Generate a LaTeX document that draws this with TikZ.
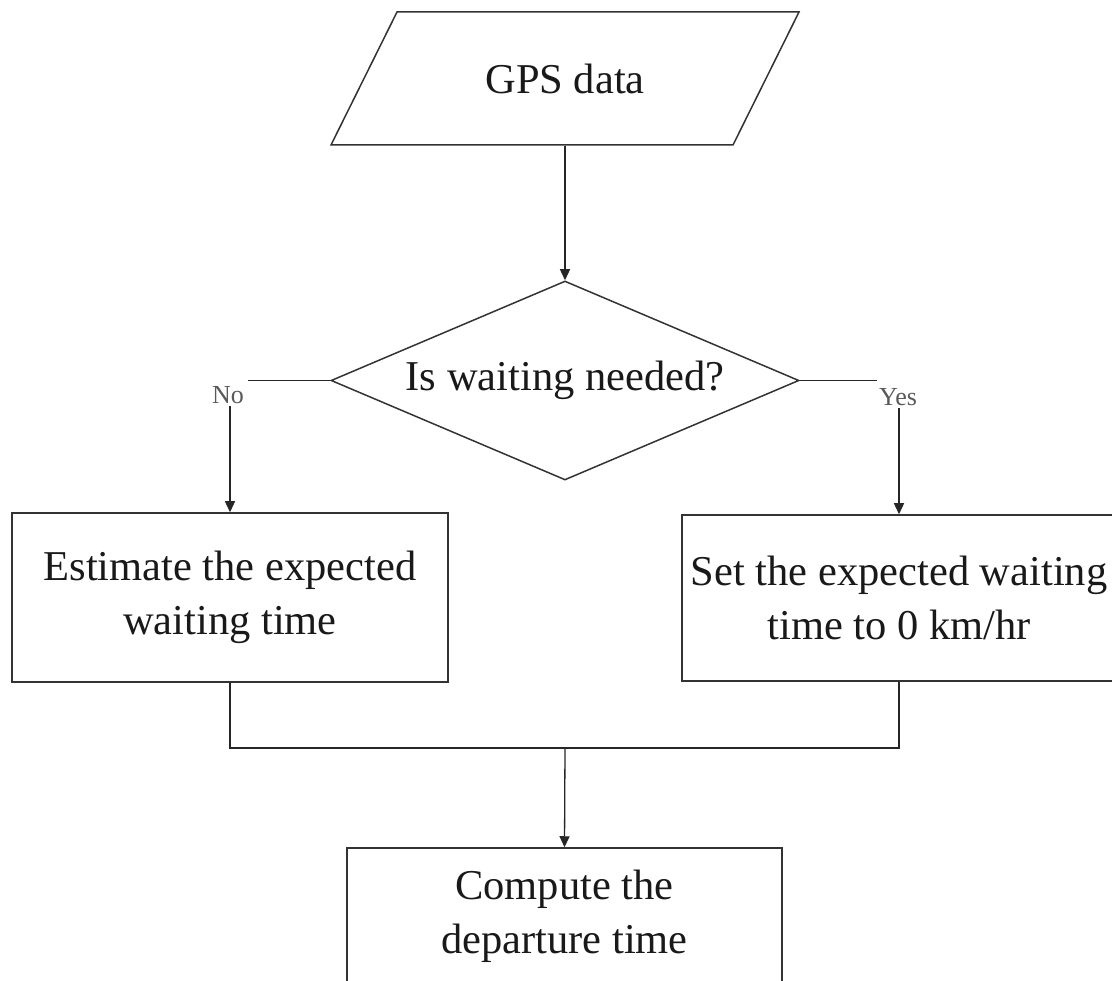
\documentclass[tikz,border=0pt]{standalone}
\usepackage{fontspec}
\setmainfont{Liberation Serif}
\usetikzlibrary{shapes.geometric,arrows.meta,calc}
\begin{document}
\begin{tikzpicture}[x=1pt,y=-1pt,
  line width=1.5pt,
  every node/.style={font=\fontsize{42.5}{54}\selectfont, text=black!90},
  box/.style={draw=black!80, rectangle, align=center, inner sep=0pt},
  dia/.style={draw=black!80, diamond, aspect=2.35, inner sep=0pt, minimum width=468pt, minimum height=199pt},
  lbl/.style={font=\fontsize{26}{30}\selectfont, text=black!65, inner sep=2pt},
  conn/.style={draw=black!85, line width=1.3pt},
  arr/.style={conn, -{Triangle[length=11pt,width=10pt]}}
]
\useasboundingbox (0,0) rectangle (1112,981);
\clip (0,0) rectangle (1112,981);

% GPS data (parallelogram)
\node[inner sep=0pt, minimum width=402pt, minimum height=133pt] (gps) at (565,78.5) {GPS data};
\draw[draw=black!80] (397,12) -- (799,12) -- (733,145) -- (331,145) -- cycle;

% decision
\node[dia] (dec) at (565,380.5) {Is waiting needed?};

% labels
\node[lbl] (no) at (228,395) {No};
\node[lbl] (yes) at (898,397) {Yes};
\coordinate (noend) at (248,380.5);
\coordinate (yesend) at (877,380.5);

% process boxes
\node[box, minimum width=436pt, minimum height=169pt] (est) at (230,597.5) {Estimate the expected\\waiting time};
\node[box, minimum width=434pt, minimum height=166pt] (set) at (899,598) {Set the expected waiting\\time to 0 km/hr};
\node[box, minimum width=435pt, minimum height=136pt] (comp) at (564.5,916) {Compute the\\departure time};

\coordinate (merge) at (565,748);

% connectors
\draw[arr] (gps.south) -- (dec.north);
\draw[conn] (dec.west) -- (noend);
\draw[conn] (dec.east) -- (yesend);
\draw[arr] (est.north |- no.south) -- (est.north);
\draw[arr] (set.north |- yes.south) -- (set.north);
\draw[conn] (est.south) |- (merge) -| (set.south);
\draw[arr] (merge) -- (comp.north);
\end{tikzpicture}
\end{document}
